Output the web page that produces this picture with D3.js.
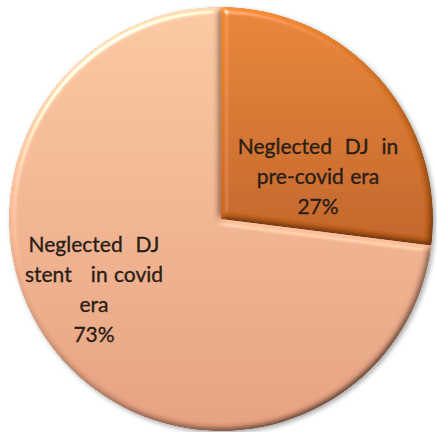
<!DOCTYPE html>
<html>
<head>
<meta charset="utf-8">
<script src="https://cdn.jsdelivr.net/npm/d3@7"></script>
<style>
	html, body { margin: 0; padding: 0; background: #fff; }
	svg { display: block; }
	text { font-family: Lato, "Open Sans", sans-serif; fill: #2a1e16; stroke: #2a1e16; stroke-width: 0.35px; }
</style>
</head>
<body>
<svg id="chart" width="437" height="432"></svg>
<script>
// chart data
var categories = [
	['Neglected  DJ  in', 'pre-covid era'],
	['Neglected  DJ', 'stent   in covid', 'era']
];
var values = [27, 73];
var percentLabels = ['27%', '73%'];

var WIDTH = 437, HEIGHT = 432,
	cx = 221, cy = 219, R = 212;

// colours per slice: [top, bottom]
var fills = [['#e8832f', '#c0601d'], ['#f9c7a2', '#e59f7f']];
// label centres, relative to the pie centre
var labelOffsets = [[97, -65], [-127, 33]];
var lineHeight = 30;

var svg = d3.select('#chart');
var defs = svg.append('defs');

fills.forEach(function (f, i) {
	var g = defs.append('linearGradient')
		.attr('id', 'fill' + i)
		.attr('x1', 0).attr('y1', 0)
		.attr('x2', 0).attr('y2', 1);
	g.append('stop').attr('offset', '0%').attr('stop-color', f[0]);
	g.append('stop').attr('offset', '100%').attr('stop-color', f[1]);
});

// bevel made with lighting on the blurred slice alpha
var bevel = defs.append('filter')
	.attr('id', 'bevel')
	.attr('x', '-5%').attr('y', '-5%')
	.attr('width', '110%').attr('height', '110%');
bevel.append('feGaussianBlur')
	.attr('in', 'SourceAlpha')
	.attr('stdDeviation', 3)
	.attr('result', 'blur');
bevel.append('feDiffuseLighting')
	.attr('in', 'blur')
	.attr('surfaceScale', 3.5)
	.attr('diffuseConstant', 1)
	.attr('lighting-color', '#fff')
	.attr('result', 'diff')
	.append('feDistantLight')
	.attr('azimuth', 235)
	.attr('elevation', 50);
bevel.append('feComposite')
	.attr('in', 'SourceGraphic')
	.attr('in2', 'diff')
	.attr('operator', 'arithmetic')
	.attr('k1', 1.3).attr('k2', 0).attr('k3', 0).attr('k4', 0)
	.attr('result', 'lit');
bevel.append('feSpecularLighting')
	.attr('in', 'blur')
	.attr('surfaceScale', 3.5)
	.attr('specularConstant', 1)
	.attr('specularExponent', 60)
	.attr('lighting-color', '#fff8e6')
	.attr('result', 'spec')
	.append('feDistantLight')
	.attr('azimuth', 235)
	.attr('elevation', 50);
bevel.append('feComposite')
	.attr('in', 'spec')
	.attr('in2', 'SourceAlpha')
	.attr('operator', 'in')
	.attr('result', 'specIn');
bevel.append('feComposite')
	.attr('in', 'lit')
	.attr('in2', 'specIn')
	.attr('operator', 'arithmetic')
	.attr('k1', 0).attr('k2', 1).attr('k3', 0.8).attr('k4', 0)
	.attr('result', 'both');
bevel.append('feComposite')
	.attr('in', 'both')
	.attr('in2', 'SourceAlpha')
	.attr('operator', 'in');

var shadow = defs.append('filter')
	.attr('id', 'shadow')
	.attr('x', '-10%').attr('y', '-10%')
	.attr('width', '120%').attr('height', '120%');
shadow.append('feGaussianBlur').attr('in', 'SourceAlpha').attr('stdDeviation', 2.5);
shadow.append('feOffset').attr('dx', 1.5).attr('dy', 2).attr('result', 'off');
shadow.append('feComponentTransfer').append('feFuncA').attr('type', 'linear').attr('slope', 0.35);
var merge = shadow.append('feMerge');
merge.append('feMergeNode');
merge.append('feMergeNode').attr('in', 'SourceGraphic');

var pie = d3.pie().sort(null).value(function (d) { return d; });
var arcs = pie(values);

var arc = d3.arc().innerRadius(0).outerRadius(R);

var g = svg.append('g')
	.attr('transform', 'translate(' + cx + ',' + cy + ')')
	.attr('filter', 'url(#shadow)');

g.selectAll('path.slice')
	.data(arcs)
	.enter()
	.append('path')
	.attr('class', 'slice')
	.attr('d', arc)
	.attr('fill', function (d, i) { return 'url(#fill' + i + ')'; })
	.attr('filter', 'url(#bevel)');

// labels
var label = svg.append('g')
	.attr('transform', 'translate(' + cx + ',' + cy + ')')
	.selectAll('text.label')
	.data(arcs)
	.enter()
	.append('text')
	.attr('class', 'label')
	.attr('text-anchor', 'middle')
	.attr('font-size', 21)
	.attr('word-spacing', 1)
	.attr('transform', function (d, i) {
		return 'translate(' + labelOffsets[i][0] + ',' + labelOffsets[i][1] + ')';
	});

label.each(function (d, i) {
	var lines = categories[i].concat([percentLabels[i]]);
	var t = d3.select(this);
	lines.forEach(function (l, j) {
		t.append('tspan')
			.attr('x', 0)
			.attr('y', j * lineHeight)
			.style('white-space', 'pre')
			.text(l);
	});
});
</script>
</body>
</html>
